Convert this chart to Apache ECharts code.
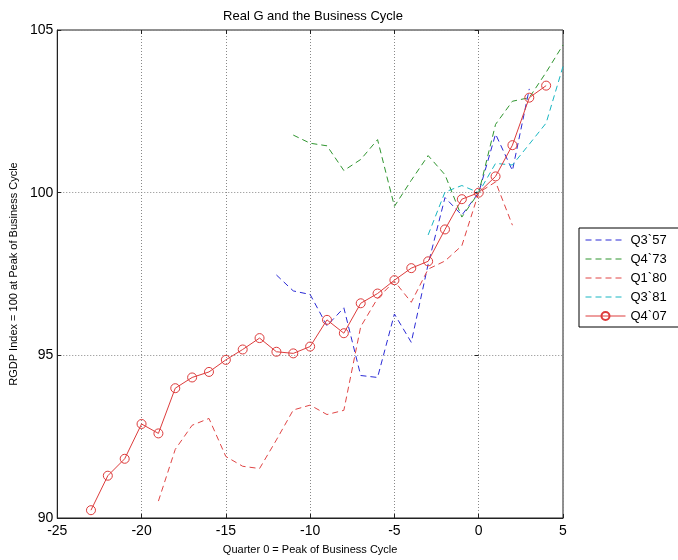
<!DOCTYPE html>
<html>
<head>
<meta charset="utf-8">
<script src="https://cdn.jsdelivr.net/npm/echarts@6/dist/echarts.min.js"></script>
<style>
html,body{margin:0;padding:0;background:#fff;}
#chart{width:678px;height:560px;}
</style>
</head>
<body>
<div id="chart"></div>
<script>
// Data (quarters relative to business-cycle peak)
const xTicks = [-25, -20, -15, -10, -5, 0, 5];
const yTicks = [90, 95, 100, 105];
const seriesNames = ["Q3`57", "Q4`73", "Q1`80", "Q3`81", "Q4`07"];
const startQuarters = [-12, -11, -19, -3, -23];
const q3_57 = [97.47, 96.98, 96.87, 95.91, 96.46, 94.38, 94.32, 96.27, 95.40, 97.80, 99.85, 99.31, 100, 101.80, 100.68, 103.19];
const q4_73 = [101.77, 101.52, 101.44, 100.68, 101.02, 101.63, 99.58, 100.38, 101.14, 100.55, 99.25, 100, 102.10, 102.81, 102.92, 103.70, 104.54];
const q1_80 = [90.52, 92.11, 92.85, 93.06, 91.89, 91.59, 91.52, 92.40, 93.32, 93.47, 93.18, 93.31, 95.88, 96.75, 97.28, 96.63, 97.65, 97.90, 98.37, 100, 100.33, 99.0];
const q3_81 = [98.7, 100.02, 100.22, 100, 100.90, 100.85, 101.49, 102.14, 103.88];
const q4_07 = [90.24, 91.30, 91.82, 92.89, 92.60, 93.99, 94.32, 94.49, 94.86, 95.18, 95.53, 95.11, 95.06, 95.27, 96.09, 95.68, 96.60, 96.90, 97.31, 97.68, 97.89, 98.87, 99.80, 100, 100.50, 101.46, 102.92, 103.29];

const allValues = [q3_57, q4_73, q1_80, q3_81, q4_07];
const colors = ['#2b2bd6', '#2f952f', '#e04545', '#18b6c2', '#dd3c3c'];

function pairs(start, vals) { return vals.map((v, i) => [start + i, v]); }

const font = 'Liberation Sans, Arial, Helvetica, sans-serif';

const series = allValues.map((vals, k) => {
  const isLast = k === 4;
  return {
    name: seriesNames[k],
    type: 'line',
    data: pairs(startQuarters[k], vals),
    xAxisIndex: 0, yAxisIndex: 0,
    symbol: isLast ? 'circle' : 'none',
    symbolSize: 9,
    showSymbol: isLast,
    itemStyle: isLast ? { color: 'rgba(255,255,255,0)', borderColor: colors[k], borderWidth: 1 } : { color: colors[k] },
    lineStyle: { color: colors[k], width: 1, type: isLast ? 'solid' : [6, 4] },
    emphasis: { disabled: true },
    z: isLast ? 5 : 3
  };
});

const legendData = seriesNames.map((n, k) => k === 4
  ? { name: n }
  : { name: n, itemStyle: { opacity: 0 } });

const chart = echarts.init(document.getElementById('chart'), null, { renderer: 'canvas' });
chart.setOption({
  animation: false,
  backgroundColor: '#fff',
  color: colors,
  title: {
    text: 'Real G and the Business Cycle',
    left: 308, textAlign: 'center', top: 5,
    textStyle: { fontFamily: font, fontSize: 13, fontWeight: 'normal', color: '#000' }
  },
  legend: {
    left: 579, top: 228, orient: 'vertical',
    data: legendData,
    itemWidth: 40, itemHeight: 10, itemGap: 5,
    padding: [5, 30, 4, 6],
    borderColor: '#000', borderWidth: 1, backgroundColor: '#fff',
    lineStyle: { width: 1 },
    textStyle: { fontFamily: font, fontSize: 13, color: '#000', lineHeight: 14 }
  },
  grid: { left: 54, right: 115, top: 30, bottom: 37, show: true, borderColor: '#222', borderWidth: 1 },
  xAxis: [{
    type: 'value', min: -25, max: 5, interval: 5, position: 'bottom',
    name: 'Quarter 0 = Peak of Business Cycle', nameLocation: 'middle', nameGap: 26,
    nameTextStyle: { fontFamily: font, fontSize: 11, color: '#000' },
    axisLine: { show: true, onZero: false, lineStyle: { color: '#222' } },
    axisTick: { show: true, inside: true, length: 4, lineStyle: { color: '#222' } },
    axisLabel: { fontFamily: font, fontSize: 14, color: '#000', margin: 6 },
    splitLine: { show: true, lineStyle: { color: '#888', type: [1, 2], width: 1 } }
  }, {
    type: 'value', min: -25, max: 5, interval: 5, position: 'top',
    axisLine: { show: false }, axisLabel: { show: false }, splitLine: { show: false },
    axisTick: { show: true, inside: true, length: 4, lineStyle: { color: '#222' } }
  }],
  yAxis: [{
    type: 'value', min: 90, max: 105, interval: 5, position: 'left',
    name: 'RGDP Index = 100 at Peak of Business Cycle', nameLocation: 'middle', nameGap: 36,
    nameTextStyle: { fontFamily: font, fontSize: 11, color: '#000' },
    axisLine: { show: true, onZero: false, lineStyle: { color: '#222' } },
    axisTick: { show: true, inside: true, length: 4, lineStyle: { color: '#222' } },
    axisLabel: { fontFamily: font, fontSize: 14, color: '#000', margin: 4 },
    splitLine: { show: true, lineStyle: { color: '#888', type: [1, 2], width: 1 } }
  }, {
    type: 'value', min: 90, max: 105, interval: 5, position: 'right',
    axisLine: { show: false }, axisLabel: { show: false }, splitLine: { show: false },
    axisTick: { show: true, inside: true, length: 4, lineStyle: { color: '#222' } }
  }],
  series: series
});
</script>
</body>
</html>
